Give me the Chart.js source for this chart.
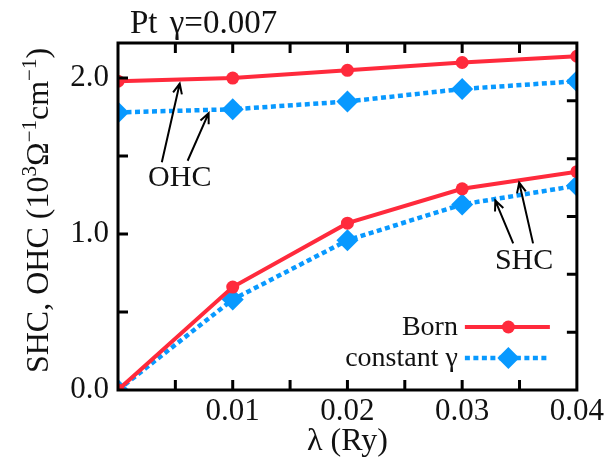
<!DOCTYPE html>
<html>
<head>
<meta charset="utf-8">
<script src="https://cdn.jsdelivr.net/npm/chart.js@4"></script>
<style>
  body { margin: 0; background: #fff; }
  #wrap { width: 607px; height: 458px; }
</style>
</head>
<body>
<div id="wrap"><canvas id="hallChart" width="607" height="458"></canvas></div>
<script>
// lambda (Ry) and the Hall conductivities (10^3 Ohm^-1 cm^-1)
const lambda = [0, 0.01, 0.02, 0.03, 0.04];
const ohcBorn = [1.98, 2.00, 2.05, 2.10, 2.14];
const ohcConst = [1.78, 1.80, 1.85, 1.93, 1.98];
const shcBorn = [0, 0.66, 1.07, 1.29, 1.40];
const shcConst = [0, 0.58, 0.96, 1.19, 1.31];

const xLabels = [0.01, 0.02, 0.03, 0.04];
const yLabels = [0.0, 1.0, 2.0];

const RED = '#ff2a3c';
const BLUE = '#0899ff';
const SERIF = '"Liberation Serif", serif';

const pts = ys => lambda.map((x, i) => ({ x: x, y: ys[i] }));

const bornStyle = {
    borderColor: RED, backgroundColor: RED, borderWidth: 4,
    pointStyle: 'circle', pointRadius: 6.5, pointBorderWidth: 0, pointBackgroundColor: RED
};
const constStyle = {
    borderColor: BLUE, backgroundColor: BLUE, borderWidth: 4.5, borderDash: [5, 3.5],
    pointStyle: 'rectRot', pointRadius: 11, pointBorderWidth: 0, pointBackgroundColor: BLUE
};

const near = (v, list) => list.some(l => Math.abs(l - v) < 1e-9);

// frame with inward ticks on all four sides
const framePlugin = {
    id: 'frame',
    afterDraw(chart) {
        const { ctx, chartArea: a, scales } = chart;
        ctx.save();
        ctx.strokeStyle = '#000';
        ctx.lineWidth = 3;
        ctx.strokeRect(a.left, a.top, a.right - a.left, a.bottom - a.top);
        ctx.beginPath();
        scales.x.ticks.forEach(t => {
            const px = scales.x.getPixelForValue(t.value);
            if (px <= a.left + 1 || px >= a.right - 1) return;
            ctx.moveTo(px, a.bottom); ctx.lineTo(px, a.bottom - 10);
            ctx.moveTo(px, a.top); ctx.lineTo(px, a.top + 10);
        });
        scales.y.ticks.forEach(t => {
            const py = scales.y.getPixelForValue(t.value);
            if (py >= a.bottom - 1 || py <= a.top + 1) return;
            ctx.moveTo(a.left, py); ctx.lineTo(a.left + 10, py);
        });
        scales.y2.ticks.forEach(t => {
            const py = scales.y2.getPixelForValue(t.value);
            if (py >= a.bottom - 1 || py <= a.top + 1) return;
            ctx.moveTo(a.right, py); ctx.lineTo(a.right - 10, py);
        });
        ctx.stroke();
        ctx.restore();
    }
};

// arrows pointing from the OHC / SHC labels to the curves (data units)
const arrows = [
    { from: [0.00382, 1.46], to: [0.00538, 1.965] },
    { from: [0.00607, 1.47], to: [0.00790, 1.775] },
    { from: [0.03445, 0.94], to: [0.03289, 1.215] },
    { from: [0.03618, 0.94], to: [0.03497, 1.33] }
];
const notes = [
    { text: 'OHC', at: [0.00538, 1.308] },
    { text: 'SHC', at: [0.0354, 0.776] }
];

const notesPlugin = {
    id: 'notes',
    afterDatasetsDraw(chart) {
        const { ctx, scales: { x, y } } = chart;
        ctx.save();
        ctx.strokeStyle = '#000';
        ctx.lineWidth = 2;
        arrows.forEach(ar => {
            const x0 = x.getPixelForValue(ar.from[0]), y0 = y.getPixelForValue(ar.from[1]);
            const x1 = x.getPixelForValue(ar.to[0]), y1 = y.getPixelForValue(ar.to[1]);
            const ang = Math.atan2(y1 - y0, x1 - x0);
            ctx.beginPath();
            ctx.moveTo(x0, y0); ctx.lineTo(x1, y1);
            ctx.moveTo(x1 - 11 * Math.cos(ang - 0.42), y1 - 11 * Math.sin(ang - 0.42));
            ctx.lineTo(x1, y1);
            ctx.lineTo(x1 - 11 * Math.cos(ang + 0.42), y1 - 11 * Math.sin(ang + 0.42));
            ctx.stroke();
        });
        ctx.fillStyle = '#111';
        ctx.font = '30px ' + SERIF;
        ctx.textAlign = 'center';
        ctx.textBaseline = 'alphabetic';
        notes.forEach(n => ctx.fillText(n.text, x.getPixelForValue(n.at[0]), y.getPixelForValue(n.at[1])));
        ctx.restore();
    },
    afterDraw(chart) {
        const { ctx, chartArea: a } = chart;
        ctx.save();
        ctx.fillStyle = '#111';
        ctx.textBaseline = 'alphabetic';

        // panel title
        ctx.font = '33px ' + SERIF;
        ctx.textAlign = 'left';
        ctx.fillText('Pt', a.left + 12, 33);
        ctx.fillText('γ=0.007', a.left + 12 + ctx.measureText('Pt ').width + 4, 33);

        // rotated y-axis title with superscripts
        const parts = [
            { t: 'SHC, OHC (10' }, { t: '3', sup: true }, { t: 'Ω' },
            { t: '−1', sup: true }, { t: 'cm' }, { t: '−1', sup: true }, { t: ')' }
        ];
        const big = '32px ' + SERIF, small = '21px ' + SERIF;
        let total = 0;
        parts.forEach(p => { ctx.font = p.sup ? small : big; p.w = ctx.measureText(p.t).width; total += p.w; });
        ctx.translate(48, (a.top + a.bottom) / 2 - 6);
        ctx.rotate(-Math.PI / 2);
        let cx = -total / 2;
        parts.forEach(p => {
            ctx.font = p.sup ? small : big;
            ctx.fillText(p.t, cx, p.sup ? -12 : 0);
            cx += p.w;
        });
        ctx.restore();

        // legend: text, then line sample with marker
        ctx.save();
        const rows = [
            { label: 'Born', ds: chart.data.datasets[0], y: a.bottom - 63 },
            { label: 'constant γ', ds: chart.data.datasets[1], y: a.bottom - 32 }
        ];
        const lx0 = a.right - 112, lx1 = a.right - 27;
        rows.forEach(r => {
            ctx.font = '28px ' + SERIF;
            ctx.fillStyle = '#111';
            ctx.textAlign = 'right';
            ctx.textBaseline = 'alphabetic';
            ctx.fillText(r.label, lx0 - 7, r.y + 8);
            ctx.strokeStyle = r.ds.borderColor;
            ctx.lineWidth = r.ds.borderWidth;
            ctx.setLineDash(r.ds.borderDash || []);
            ctx.beginPath();
            ctx.moveTo(lx0, r.y); ctx.lineTo(lx1, r.y);
            ctx.stroke();
            ctx.setLineDash([]);
            ctx.fillStyle = r.ds.pointBackgroundColor;
            Chart.helpers.drawPoint(ctx, {
                pointStyle: r.ds.pointStyle, radius: r.ds.pointRadius, rotation: 0, borderWidth: 0
            }, (lx0 + lx1) / 2 + 1, r.y);
        });
        ctx.restore();
    }
};

function build() {
    new Chart(document.getElementById('hallChart'), {
        type: 'line',
        data: {
            datasets: [
                Object.assign({ label: 'Born', data: pts(ohcBorn) }, bornStyle),
                Object.assign({ label: 'constant γ', data: pts(ohcConst) }, constStyle),
                Object.assign({ label: 'Born SHC', data: pts(shcBorn) }, bornStyle),
                Object.assign({ label: 'constant γ SHC', data: pts(shcConst) }, constStyle)
            ]
        },
        options: {
            responsive: false,
            animation: false,
            layout: { padding: { top: 43, left: 0, right: 0, bottom: 0 } },
            plugins: { legend: { display: false }, tooltip: { enabled: false }, title: { display: false } },
            scales: {
                x: {
                    type: 'linear', min: 0, max: 0.04,
                    grid: { display: false, drawTicks: false },
                    border: { display: false },
                    ticks: {
                        stepSize: 0.005, autoSkip: false, maxRotation: 0, padding: 3,
                        color: '#111', font: { family: SERIF, size: 31 },
                        callback: v => near(v, xLabels) ? v.toFixed(2) : ''
                    },
                    title: { display: true, text: 'λ (Ry)', color: '#111', padding: { top: 0, bottom: -3 }, font: { family: SERIF, size: 32 } },
                    afterFit: s => { s.height = 68; }
                },
                y: {
                    min: 0, max: 2.225,
                    grid: { display: false, drawTicks: false },
                    border: { display: false },
                    ticks: {
                        stepSize: 0.5, autoSkip: false, padding: 9,
                        color: '#111', font: { family: SERIF, size: 31 },
                        callback: v => near(v, yLabels) ? v.toFixed(1) : ''
                    },
                    afterFit: s => { s.width = 118; }
                },
                y2: {
                    position: 'right', min: 0, max: 6,
                    grid: { display: false, drawTicks: false },
                    border: { display: false },
                    ticks: { stepSize: 1, display: false },
                    afterFit: s => { s.width = 28; }
                }
            }
        },
        plugins: [framePlugin, notesPlugin]
    });
}

// make sure the serif face is ready before the canvas draws text
if (document.fonts && document.fonts.load) {
    document.fonts.load('31px "Liberation Serif"').then(build, build);
} else {
    build();
}
</script>
</body>
</html>
